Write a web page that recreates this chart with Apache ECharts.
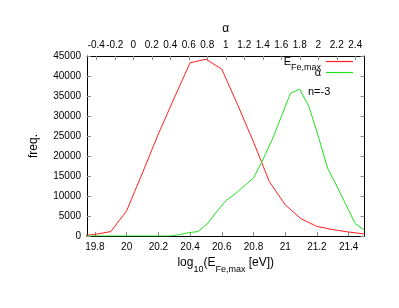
<!DOCTYPE html>
<html>
<head>
<meta charset="utf-8">
<script src="https://cdn.jsdelivr.net/npm/echarts@6/dist/echarts.min.js"></script>
<style>
html,body{margin:0;padding:0;background:#fff;}
#c{width:399px;height:308px;}
</style>
</head>
<body>
<div id="c"></div>
<script>
// Data
var logE = [19.7, 19.8, 19.9, 20.0, 20.1, 20.2, 20.3, 20.4, 20.5, 20.6, 20.7, 20.8, 20.9, 21.0, 21.1, 21.2, 21.3, 21.4, 21.5];
var freqE = [0, 400, 1100, 6300, 15800, 25500, 34500, 43300, 44200, 41700, 32800, 23500, 13600, 7800, 4300, 2400, 1600, 1000, 500];
var alpha = [-0.5, -0.4, -0.3, -0.2, -0.1, 0.0, 0.1, 0.2, 0.3, 0.4, 0.5, 0.6, 0.7, 0.8, 0.9, 1.0, 1.1, 1.2, 1.3, 1.4, 1.5, 1.6, 1.7, 1.8, 1.9, 2.0, 2.1, 2.2, 2.3, 2.4, 2.5];
var freqA = [0, 0, 0, 0, 0, 0, 0, 0, 0, 0, 350, 850, 1100, 3000, 6000, 8800, 10500, 12500, 14500, 19000, 24000, 29800, 35700, 36700, 32300, 25000, 17000, 12500, 7800, 3100, 1400];
var bottomTicks = [19.8, 20.0, 20.2, 20.4, 20.6, 20.8, 21.0, 21.2, 21.4];
var topTicks = [-0.4, -0.2, 0, 0.2, 0.4, 0.6, 0.8, 1.0, 1.2, 1.4, 1.6, 1.8, 2.0, 2.2, 2.4];

var FONT = '"Liberation Sans", Arial, sans-serif';
var chart = echarts.init(document.getElementById('c'), null, {renderer: 'canvas'});

function zip(a, b) { return a.map(function (v, i) { return [v, b[i]]; }); }
function fmt(v) { return String(Math.round(v * 10) / 10); }
function fmtInt(v) { return String(Math.round(v)); }

var tickStyle = {show: true, inside: true, length: 4, lineStyle: {color: '#888', width: 1}};

chart.setOption({
  animation: false,
  grid: {left: 87, right: 34.5, top: 56, bottom: 72, containLabel: false},
  xAxis: [
    {
      type: 'value', min: 19.75, max: 21.5, position: 'bottom',
      name: '{a|log}{s|10}{a|(E}{s|Fe,max}{a| [eV])}',
      nameLocation: 'middle', nameGap: 20,
      nameTextStyle: {rich: {
        a: {fontFamily: FONT, fontSize: 12, color: '#000'},
        s: {fontFamily: FONT, fontSize: 9, color: '#000', verticalAlign: 'bottom', padding: [0, 0, -5, 0]}
      }},
      axisLine: {show: true, onZero: false, lineStyle: {color: '#000', width: 1}},
      axisTick: Object.assign({customValues: bottomTicks}, tickStyle),
      axisLabel: {customValues: bottomTicks, formatter: fmt, fontFamily: FONT, fontSize: 10, color: '#000', margin: 6},
      splitLine: {show: false}
    },
    {
      type: 'value', min: -0.5, max: 2.5, position: 'top',
      name: 'α', nameLocation: 'middle', nameGap: 21,
      nameTextStyle: {fontFamily: FONT, fontSize: 12, color: '#000'},
      axisLine: {show: true, onZero: false, lineStyle: {color: '#000', width: 1}},
      axisTick: Object.assign({customValues: topTicks}, tickStyle),
      axisLabel: {customValues: topTicks, formatter: fmt, fontFamily: FONT, fontSize: 10, color: '#000', margin: 6},
      splitLine: {show: false}
    }
  ],
  yAxis: [
    {
      type: 'value', min: 0, max: 45000, interval: 5000, position: 'left',
      name: 'freq.', nameLocation: 'middle', nameGap: 47, nameRotate: 90,
      nameTextStyle: {fontFamily: FONT, fontSize: 12, color: '#000'},
      axisLine: {show: true, onZero: false, lineStyle: {color: '#000', width: 1}},
      axisTick: tickStyle,
      axisLabel: {formatter: fmtInt, fontFamily: FONT, fontSize: 10, color: '#000', margin: 6},
      splitLine: {show: false}
    },
    {
      type: 'value', min: 0, max: 45000, interval: 5000, position: 'right',
      axisLine: {show: true, onZero: false, lineStyle: {color: '#000', width: 1}},
      axisTick: tickStyle,
      axisLabel: {show: false},
      splitLine: {show: false}
    }
  ],
  legend: [
    {
      data: ['E_Fe,max'], right: 46, top: 56, orient: 'vertical', align: 'right',
      icon: 'rect', itemWidth: 27, itemHeight: 1.2, itemGap: 0, padding: 0,
      formatter: function () { return '{a|E}{s|Fe,max}'; },
      textStyle: {rich: {
        a: {fontFamily: FONT, fontSize: 11, color: '#000'},
        s: {fontFamily: FONT, fontSize: 9, color: '#000', verticalAlign: 'bottom', padding: [0, 0, -5, 0]}
      }}
    },
    {
      data: ['α'], right: 46, top: 67, orient: 'vertical', align: 'right',
      icon: 'rect', itemWidth: 27, itemHeight: 1.2, itemGap: 0, padding: 0,
      textStyle: {fontFamily: FONT, fontSize: 11, color: '#000'}
    }
  ],
  graphic: [
    {type: 'text', left: 308, top: 86, style: {text: 'n=-3', fontFamily: FONT, fontSize: 11, fill: '#000'}}
  ],
  series: [
    {
      name: 'E_Fe,max', type: 'line', xAxisIndex: 0, yAxisIndex: 0,
      data: zip(logE, freqE), showSymbol: false, symbol: 'none',
      lineStyle: {color: '#ff2020', width: 1}, itemStyle: {color: '#ff2020'},
      clip: true
    },
    {
      name: 'α', type: 'line', xAxisIndex: 1, yAxisIndex: 0,
      data: zip(alpha, freqA), showSymbol: false, symbol: 'none',
      lineStyle: {color: '#20e020', width: 1}, itemStyle: {color: '#20e020'},
      clip: true
    }
  ]
});
</script>
</body>
</html>
